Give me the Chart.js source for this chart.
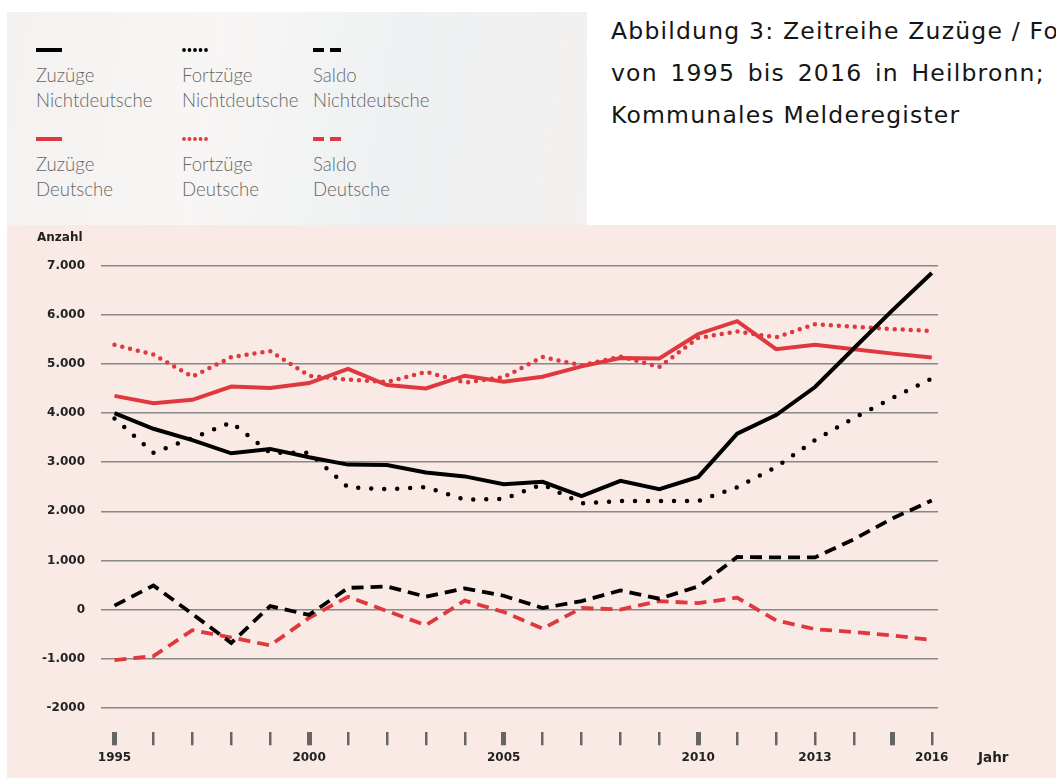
<!DOCTYPE html>
<html lang="de">
<head>
<meta charset="utf-8">
<title>Zeitreihe Zuzüge / Fortzüge Heilbronn</title>
<script src="https://cdn.jsdelivr.net/npm/chart.js@4.4.1/dist/chart.umd.min.js"></script>
<style>
html, body { margin: 0; padding: 0; background: #fff; }
#seite { position: relative; width: 1056px; height: 778px; overflow: hidden; background: #fff; }
#legendeBox {
    position: absolute; left: 7px; top: 12px; width: 580px; height: 213px;
    background: linear-gradient(100deg, #f4f2f1 0%, #f8f6f5 35%, #eef1f2 65%, #f3f0ef 100%);
}
.eintrag {
    position: absolute; font-family: Lato, "Open Sans", sans-serif; font-weight: 300;
    font-size: 18.6px; line-height: 25px; color: #666; white-space: nowrap;
}
.eintrag svg { display: block; margin-bottom: 9px; }
#titel {
    position: absolute; left: 611px; top: 10px; font-family: "DejaVu Sans", sans-serif;
    font-size: 23.5px; letter-spacing: 1.2px; line-height: 42px; color: #151515; white-space: nowrap;
}
#titel .zeile2 { word-spacing: 4px; }
#diagramm { position: absolute; left: 7px; top: 225px; width: 1049px; height: 553px; background: #f9eae6; }
</style>
</head>
<body>
<div id="seite">
    <div id="legendeBox"></div>
    <div id="legende"></div>
    <div id="titel">
        <div>Abbildung 3: Zeitreihe Zuzüge / Fortzüge</div>
        <div class="zeile2">von 1995 bis 2016 in Heilbronn; Quelle:</div>
        <div>Kommunales Melderegister</div>
    </div>
    <div id="diagramm"><canvas id="grafico" width="1049" height="553"></canvas></div>
</div>
<script>
const jahre = [1995, 1996, 1997, 1998, 1999, 2000, 2001, 2002, 2003, 2004, 2005,
               2006, 2007, 2008, 2009, 2010, 2011, 2012, 2013, 2014, 2015, 2016];

const zuzuegeNichtdeutsche  = [4000, 3680, 3450, 3180, 3270, 3100, 2950, 2940, 2790, 2710, 2550,
                               2600, 2310, 2620, 2450, 2700, 3580, 3960, 4530, 5320, 6100, 6850];
const fortzuegeNichtdeutsche = [3890, 3190, 3490, 3810, 3190, 3190, 2490, 2450, 2490, 2240, 2250,
                               2550, 2160, 2210, 2210, 2210, 2490, 2900, 3450, 3900, 4310, 4700];
const saldoNichtdeutsche    = [80, 490, -90, -680, 70, -110, 440, 470, 260, 430, 280,
                               30, 170, 390, 220, 470, 1070, 1060, 1060, 1430, 1860, 2220];
const zuzuegeDeutsche       = [4350, 4200, 4270, 4540, 4510, 4610, 4900, 4570, 4500, 4760, 4640,
                               4740, 4950, 5120, 5110, 5610, 5870, 5300, 5390, 5300, 5210, 5130];
const fortzuegeDeutsche     = [5390, 5190, 4740, 5140, 5260, 4760, 4680, 4630, 4840, 4620, 4730,
                               5140, 4970, 5150, 4940, 5530, 5660, 5540, 5810, 5760, 5710, 5670];
const saldoDeutsche         = [-1030, -950, -420, -570, -730, -170, 260, -30, -320, 180, -50,
                               -390, 30, 0, 170, 130, 240, -220, -400, -460, -530, -620];

const yWerte = [-2000, -1000, 0, 1000, 2000, 3000, 4000, 5000, 6000, 7000];
const yBeschriftung = ['-2000', '-1.000', '0', '1.000', '2.000', '3.000', '4.000', '5.000', '6.000', '7.000'];
const xBeschriftung = [1995, 2000, 2005, 2010, 2013, 2016];

const SCHWARZ = '#000000';
const ROT = '#e0383f';

// Reihenfolge: erste Reihe liegt oben
const reihen = [
    { name: ['Zuzüge', 'Nichtdeutsche'],  werte: zuzuegeNichtdeutsche,  farbe: SCHWARZ, stil: 'linie',  spalte: 0, zeile: 0 },
    { name: ['Fortzüge', 'Nichtdeutsche'], werte: fortzuegeNichtdeutsche, farbe: SCHWARZ, stil: 'punkte', spalte: 1, zeile: 0 },
    { name: ['Saldo', 'Nichtdeutsche'],   werte: saldoNichtdeutsche,    farbe: SCHWARZ, stil: 'strich', spalte: 2, zeile: 0 },
    { name: ['Zuzüge', 'Deutsche'],       werte: zuzuegeDeutsche,       farbe: ROT,     stil: 'linie',  spalte: 0, zeile: 1 },
    { name: ['Fortzüge', 'Deutsche'],     werte: fortzuegeDeutsche,     farbe: ROT,     stil: 'punkte', spalte: 1, zeile: 1 },
    { name: ['Saldo', 'Deutsche'],        werte: saldoDeutsche,         farbe: ROT,     stil: 'strich', spalte: 2, zeile: 1 }
];

const stilOptionen = (reihe) => {
    if (reihe.stil === 'punkte') {
        const abstand = reihe.farbe === SCHWARZ ? 13 : 8;
        return { borderWidth: 4.5, borderDash: [0, abstand], borderCapStyle: 'round' };
    }
    if (reihe.stil === 'strich') {
        return { borderWidth: 3.8, borderDash: [12, 7], borderCapStyle: 'butt' };
    }
    return { borderWidth: 4, borderDash: [], borderCapStyle: 'butt' };
};

// Legende
const legende = document.getElementById('legende');
const spaltenX = [36, 182, 313];
const zeilenY = [46, 135];
const swatch = (reihe) => {
    let inhalt;
    if (reihe.stil === 'linie') {
        inhalt = `<line x1="0" y1="4" x2="26" y2="4" stroke="${reihe.farbe}" stroke-width="4"/>`;
    } else if (reihe.stil === 'punkte') {
        inhalt = [0, 1, 2, 3, 4].map(i => `<circle cx="${2 + i * 5.5}" cy="4" r="1.9" fill="${reihe.farbe}"/>`).join('');
    } else {
        inhalt = `<line x1="0" y1="4" x2="11" y2="4" stroke="${reihe.farbe}" stroke-width="4"/>` +
                 `<line x1="17" y1="4" x2="28" y2="4" stroke="${reihe.farbe}" stroke-width="4"/>`;
    }
    return `<svg width="30" height="8">${inhalt}</svg>`;
};
reihen.forEach(reihe => {
    const div = document.createElement('div');
    div.className = 'eintrag';
    div.style.left = spaltenX[reihe.spalte] + 'px';
    div.style.top = zeilenY[reihe.zeile] + 'px';
    div.innerHTML = swatch(reihe) + reihe.name[0] + '<br>' + reihe.name[1];
    legende.appendChild(div);
});

const achsenTitel = {
    id: 'achsenTitel',
    afterDraw(chart) {
        const ctx = chart.ctx;
        ctx.save();
        ctx.fillStyle = '#222';
        ctx.textBaseline = 'alphabetic';
        ctx.textAlign = 'left';
        ctx.font = 'bold 12px "DejaVu Sans"';
        ctx.fillText('Anzahl', 30, 16);
        ctx.font = 'bold 13.5px "DejaVu Sans"';
        ctx.fillText('Jahr', 971, 537);
        ctx.restore();
    }
};

const grafico = document.getElementById('grafico').getContext('2d');
const diagramm = new Chart(grafico, {
    type: 'line',
    data: {
        datasets: reihen.map(reihe => ({
            label: reihe.name.join(' '),
            data: jahre.map((jahr, i) => ({ x: jahr, y: reihe.werte[i] })),
            borderColor: reihe.farbe,
            backgroundColor: reihe.farbe,
            pointRadius: 0,
            tension: 0,
            fill: false,
            ...stilOptionen(reihe)
        }))
    },
    options: {
        responsive: false,
        animation: false,
        devicePixelRatio: 1,
        layout: { padding: { top: 40.7, right: 118, bottom: 0, left: 0 } },
        plugins: { legend: { display: false }, tooltip: { enabled: false } },
        scales: {
            x: {
                type: 'linear',
                min: 1994.64,
                max: 2016.16,
                afterBuildTicks: (scale) => { scale.ticks = jahre.map(j => ({ value: j })); },
                afterFit: (scale) => { scale.height = 45.7; },
                border: { display: false },
                grid: {
                    drawOnChartArea: false,
                    drawTicks: true,
                    tickLength: 13,
                    color: '#666',
                    lineWidth: (ctx) => (ctx.tick && ctx.tick.value % 5 === 0) ? 5 : 2.5
                },
                ticks: {
                    autoSkip: false,
                    maxRotation: 0,
                    padding: 5,
                    color: '#222',
                    font: { family: '"DejaVu Sans"', size: 12, weight: 'bold' },
                    callback: (wert) => xBeschriftung.includes(wert) ? String(wert) : ''
                }
            },
            y: {
                min: -2500,
                max: 7000,
                afterBuildTicks: (scale) => { scale.ticks = yWerte.map(v => ({ value: v })); },
                afterFit: (scale) => { scale.width = 93.5; },
                border: { display: false },
                grid: { drawTicks: false, color: '#888', lineWidth: 1.5 },
                ticks: {
                    padding: 15.5,
                    color: '#222',
                    font: { family: '"DejaVu Sans"', size: 12, weight: 'bold' },
                    callback: (wert) => yBeschriftung[yWerte.indexOf(wert)]
                }
            }
        }
    },
    plugins: [achsenTitel]
});
</script>
</body>
</html>
